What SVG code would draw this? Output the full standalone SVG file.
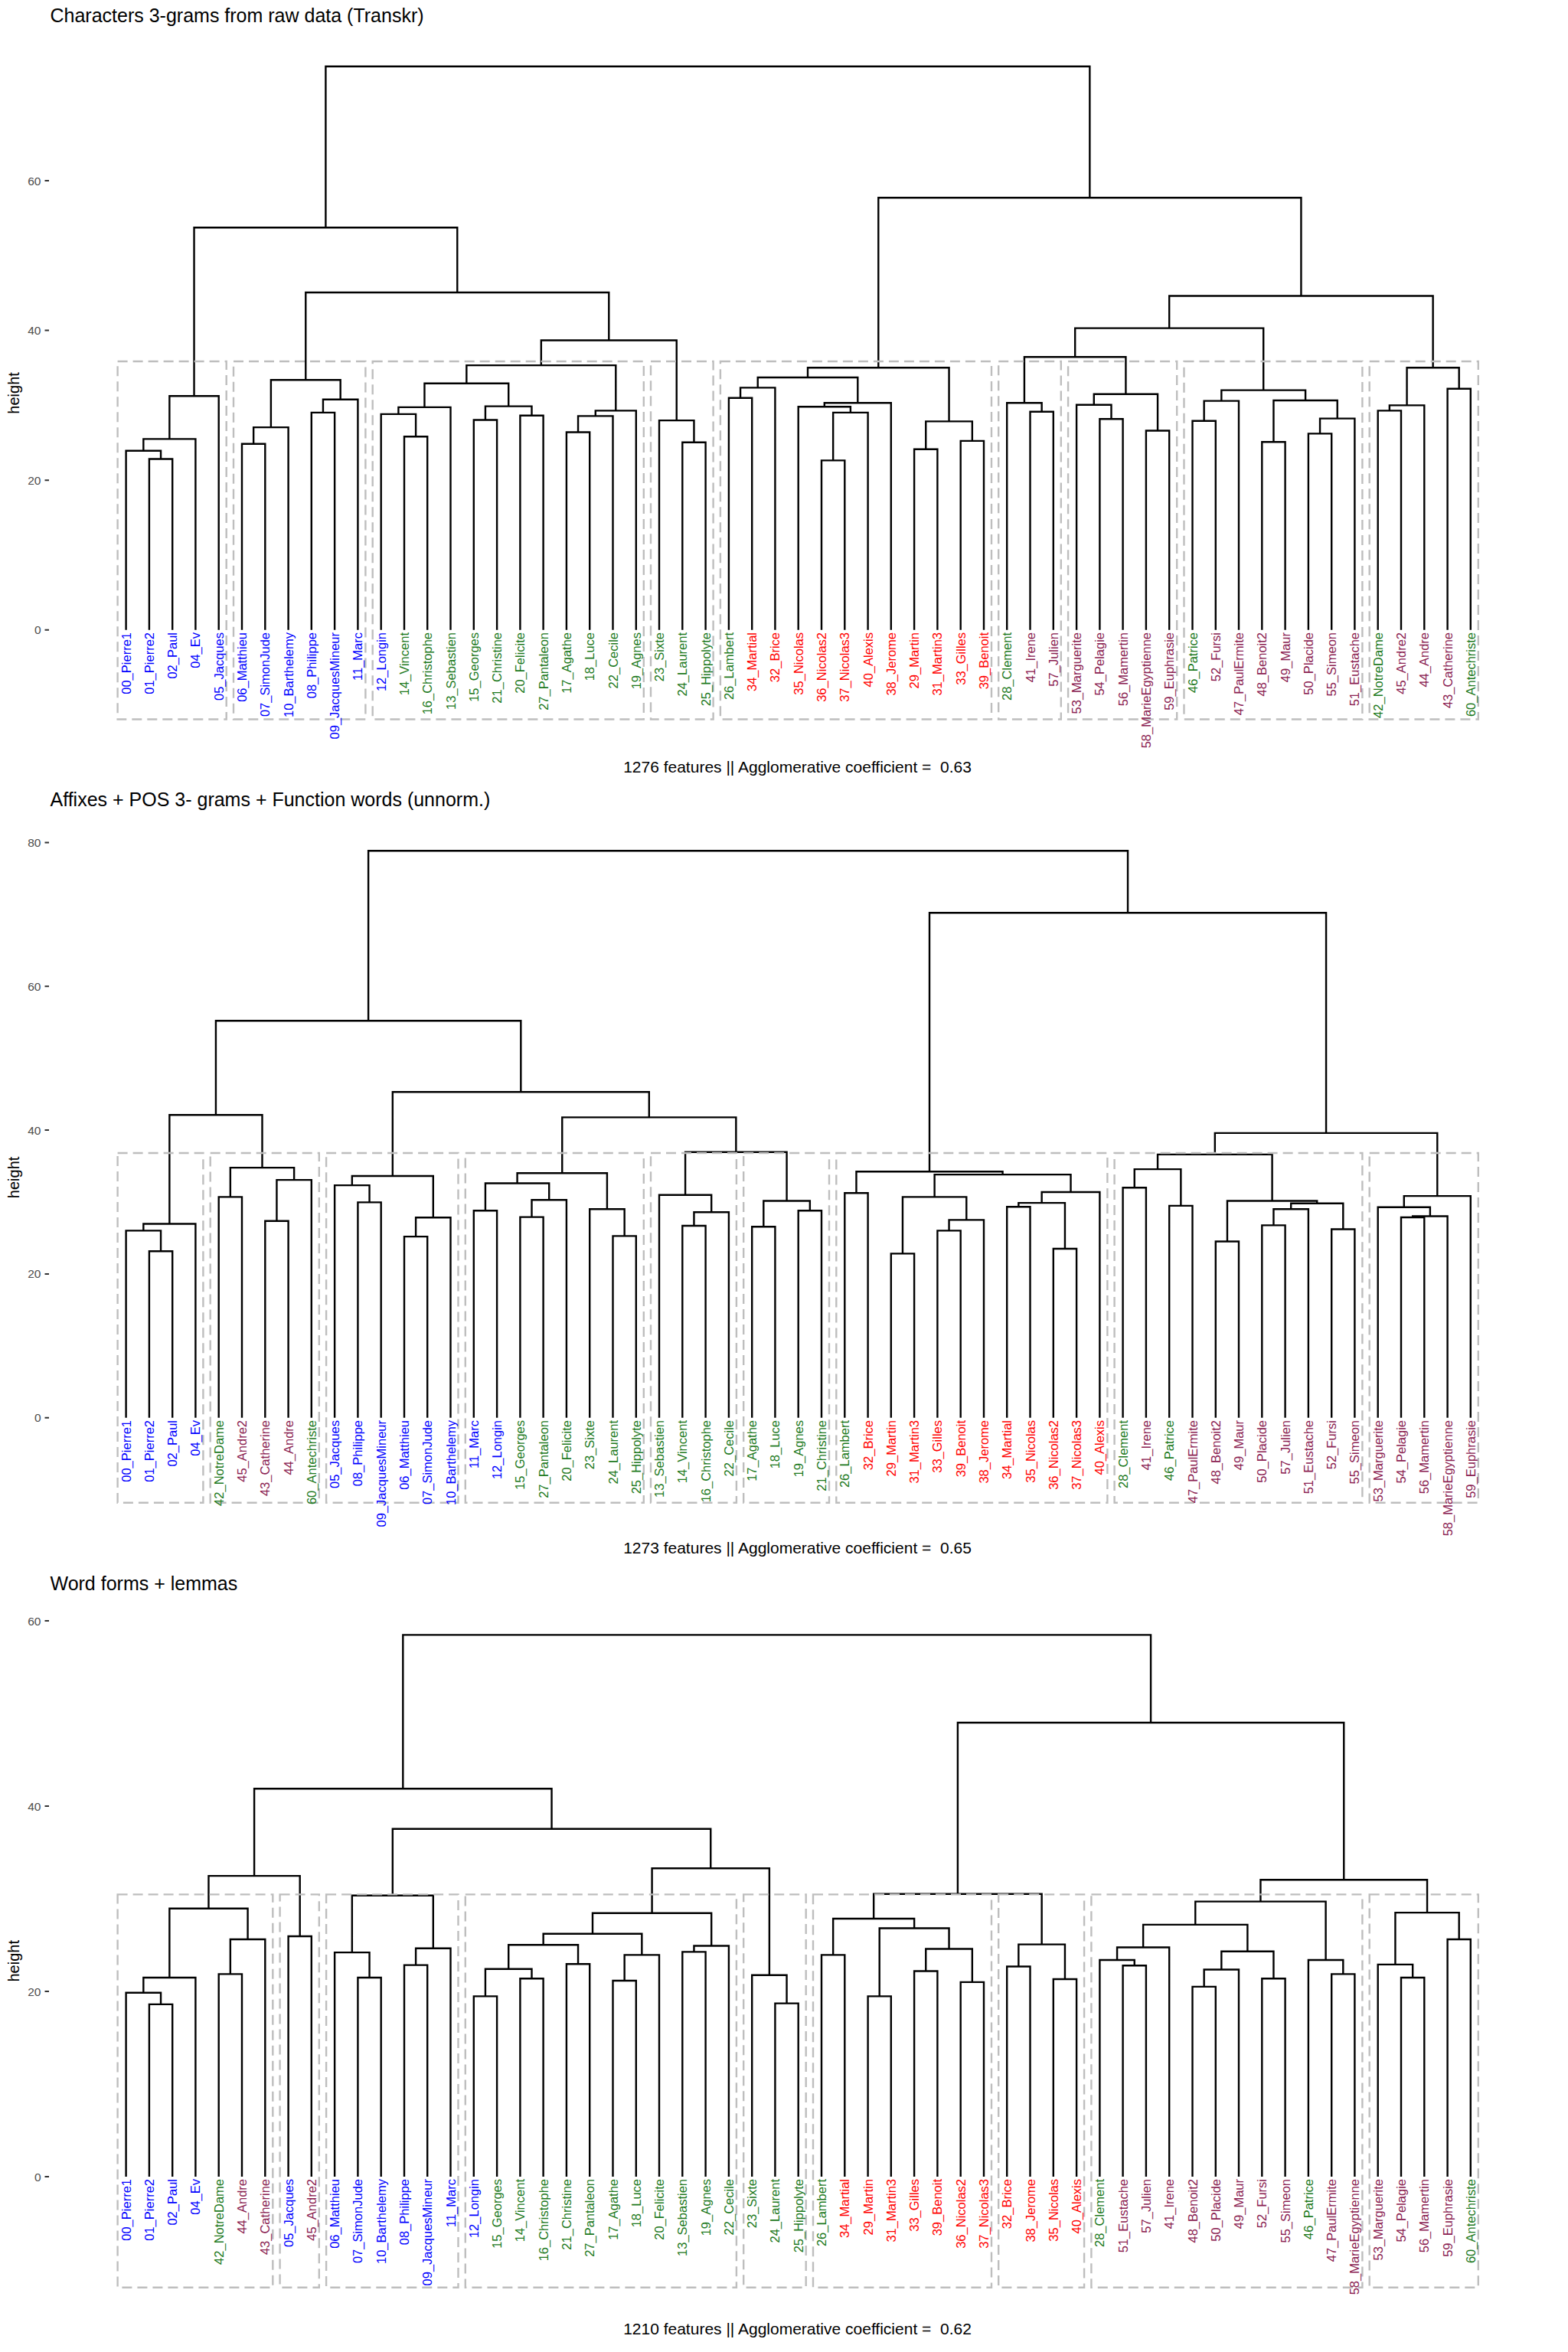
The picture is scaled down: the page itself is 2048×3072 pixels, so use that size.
<svg xmlns="http://www.w3.org/2000/svg" width="2048" height="3072" viewBox="0 0 2048 3072">
<style>
text{font-family:"Liberation Sans",Arial,Helvetica,sans-serif}
.ttl{font-size:25px;fill:#000}
.cap{font-size:21px;fill:#000;text-anchor:middle}
.ax{font-size:20px;fill:#000;text-anchor:middle}
.tk{font-size:15.5px;fill:#4D4D4D;text-anchor:end}
.lb{font-size:16.5px;text-anchor:end}
.b{fill:#0000FF}.g{fill:#1E7A1E}.r{fill:#FF0000}.m{fill:#8B2252}
.tree{fill:none;stroke:#000;stroke-width:2.4;stroke-linejoin:miter;stroke-linecap:butt}
.box{fill:none;stroke:#BEBEBE;stroke-width:2.4;stroke-dasharray:13 7}
.tick{stroke:#333;stroke-width:2}
</style>
<rect width="2048" height="3072" fill="#fff"/>

<!-- ============ PANEL 1 ============ -->
<g id="panel1">
<text class="ttl" x="65.5" y="29.3">Characters 3-grams from raw data (Transkr)</text>
<text class="ax" transform="translate(24.5 513.4) rotate(-90)">height</text>
<g id="p1-axis">
<path class="tick" d="M58.5 822.8H64M58.5 627.2H64M58.5 431.6H64M58.5 236H64"/>
<text class="tk" x="53.5" y="828.3">0</text>
<text class="tk" x="53.5" y="632.7">20</text>
<text class="tk" x="53.5" y="437.1">40</text>
<text class="tk" x="53.5" y="241.5">60</text>
</g>
<g id="p1-connectors">
<path class="tree" d="M194.9 822.8V599.5H225.2V822.8M164.6 822.8V588.7H210.05V599.5M187.33 588.7V573.4H255.4V822.8M221.36 573.4V517.3H285.7V822.8M316 822.8V579.8H346.3V822.8M331.15 579.8V558.1H376.6V822.8M406.8 822.8V538.9H437.1V822.8M421.95 538.9V521.7H467.4V822.8M353.88 558.1V496.2H444.68V521.7M528 822.8V570.2H558.2V822.8M497.7 822.8V540.9H543.1V570.2M520.4 540.9V531.9H588.5V822.8M618.8 822.8V548.5H649.1V822.8M679.4 822.8V542.8H709.6V822.8M633.95 548.5V530.6H694.5V542.8M554.45 531.9V500.7H664.23V530.6M739.9 822.8V564.5H770.2V822.8M755.05 564.5V543.4H800.5V822.8M777.78 543.4V536.4H830.8V822.8M609.34 500.7V477.1H804.29V536.4M891.3 822.8V577.8H921.6V822.8M861 822.8V549.1H906.45V577.8M706.82 477.1V444.5H883.73V549.1M399.28 496.2V382H795.28V444.5M253.53 517.3V297.2H597.28V382M951.9 822.8V519.8H982.2V822.8M967.05 519.8V506.4H1012.4V822.8M1073 822.8V601.4H1103.3V822.8M1088.15 601.4V538.9H1133.6V822.8M1042.7 822.8V531.3H1110.88V538.9M1076.79 531.3V526.2H1163.8V822.8M989.73 506.4V493H1120.3V526.2M1194.1 822.8V586.8H1224.4V822.8M1254.7 822.8V575.9H1285V822.8M1209.25 586.8V550.4H1269.85V575.9M1055.01 493V480.3H1239.55V550.4M1345.5 822.8V537.7H1375.8V822.8M1315.2 822.8V526.2H1360.65V537.7M1436.4 822.8V547.2H1466.6V822.8M1406.1 822.8V528.7H1451.5V547.2M1496.9 822.8V562.5H1527.2V822.8M1428.8 528.7V514.7H1512.05V562.5M1337.93 526.2V466.2H1470.43V514.7M1557.5 822.8V549.8H1587.8V822.8M1572.65 549.8V523.6H1618V822.8M1648.3 822.8V577.2H1678.6V822.8M1708.9 822.8V566.4H1739.2V822.8M1724.05 566.4V546.6H1769.4V822.8M1663.45 577.2V523H1746.73V546.6M1595.33 523.6V509.6H1705.09V523M1404.18 466.2V428.6H1650.21V509.6M1799.7 822.8V536.4H1830V822.8M1814.85 536.4V529.4H1860.3V822.8M1890.6 822.8V507.7H1920.8V822.8M1837.58 529.4V480.3H1905.7V507.7M1527.2 428.6V386.5H1871.64V480.3M1147.28 480.3V258.3H1699.42V386.5M425.41 297.2V86.7H1423.35V258.3"/>
</g>
<g id="p1-boxes">
<rect class="box" x="153.6" y="472" width="142.1" height="467.5"/>
<rect class="box" x="305" y="472" width="172.4" height="467.5"/>
<rect class="box" x="486.7" y="472" width="354.1" height="467.5"/>
<rect class="box" x="850" y="472" width="81.6" height="467.5"/>
<rect class="box" x="940.9" y="472" width="354.1" height="467.5"/>
<rect class="box" x="1304.2" y="472" width="81.6" height="467.5"/>
<rect class="box" x="1395.1" y="472" width="142.1" height="467.5"/>
<rect class="box" x="1546.5" y="472" width="232.9" height="467.5"/>
<rect class="box" x="1788.7" y="472" width="142.1" height="467.5"/>
</g>
<g id="p1-labels">
<g id="p1-00_Pierre1"><text class="lb b" transform="translate(170.6 826) rotate(-90)">00_Pierre1</text></g>
<g id="p1-01_Pierre2"><text class="lb b" transform="translate(200.9 826) rotate(-90)">01_Pierre2</text></g>
<g id="p1-02_Paul"><text class="lb b" transform="translate(231.2 826) rotate(-90)">02_Paul</text></g>
<g id="p1-04_Ev"><text class="lb b" transform="translate(261.4 826) rotate(-90)">04_Ev</text></g>
<g id="p1-05_Jacques"><text class="lb b" transform="translate(291.7 826) rotate(-90)">05_Jacques</text></g>
<g id="p1-06_Matthieu"><text class="lb b" transform="translate(322 826) rotate(-90)">06_Matthieu</text></g>
<g id="p1-07_SimonJude"><text class="lb b" transform="translate(352.3 826) rotate(-90)">07_SimonJude</text></g>
<g id="p1-10_Barthelemy"><text class="lb b" transform="translate(382.6 826) rotate(-90)">10_Barthelemy</text></g>
<g id="p1-08_Philippe"><text class="lb b" transform="translate(412.8 826) rotate(-90)">08_Philippe</text></g>
<g id="p1-09_JacquesMineur"><text class="lb b" transform="translate(443.1 826) rotate(-90)">09_JacquesMineur</text></g>
<g id="p1-11_Marc"><text class="lb b" transform="translate(473.4 826) rotate(-90)">11_Marc</text></g>
<g id="p1-12_Longin"><text class="lb b" transform="translate(503.7 826) rotate(-90)">12_Longin</text></g>
<g id="p1-14_Vincent"><text class="lb g" transform="translate(534 826) rotate(-90)">14_Vincent</text></g>
<g id="p1-16_Christophe"><text class="lb g" transform="translate(564.2 826) rotate(-90)">16_Christophe</text></g>
<g id="p1-13_Sebastien"><text class="lb g" transform="translate(594.5 826) rotate(-90)">13_Sebastien</text></g>
<g id="p1-15_Georges"><text class="lb g" transform="translate(624.8 826) rotate(-90)">15_Georges</text></g>
<g id="p1-21_Christine"><text class="lb g" transform="translate(655.1 826) rotate(-90)">21_Christine</text></g>
<g id="p1-20_Felicite"><text class="lb g" transform="translate(685.4 826) rotate(-90)">20_Felicite</text></g>
<g id="p1-27_Pantaleon"><text class="lb g" transform="translate(715.6 826) rotate(-90)">27_Pantaleon</text></g>
<g id="p1-17_Agathe"><text class="lb g" transform="translate(745.9 826) rotate(-90)">17_Agathe</text></g>
<g id="p1-18_Luce"><text class="lb g" transform="translate(776.2 826) rotate(-90)">18_Luce</text></g>
<g id="p1-22_Cecile"><text class="lb g" transform="translate(806.5 826) rotate(-90)">22_Cecile</text></g>
<g id="p1-19_Agnes"><text class="lb g" transform="translate(836.8 826) rotate(-90)">19_Agnes</text></g>
<g id="p1-23_Sixte"><text class="lb g" transform="translate(867 826) rotate(-90)">23_Sixte</text></g>
<g id="p1-24_Laurent"><text class="lb g" transform="translate(897.3 826) rotate(-90)">24_Laurent</text></g>
<g id="p1-25_Hippolyte"><text class="lb g" transform="translate(927.6 826) rotate(-90)">25_Hippolyte</text></g>
<g id="p1-26_Lambert"><text class="lb g" transform="translate(957.9 826) rotate(-90)">26_Lambert</text></g>
<g id="p1-34_Martial"><text class="lb r" transform="translate(988.2 826) rotate(-90)">34_Martial</text></g>
<g id="p1-32_Brice"><text class="lb r" transform="translate(1018.4 826) rotate(-90)">32_Brice</text></g>
<g id="p1-35_Nicolas"><text class="lb r" transform="translate(1048.7 826) rotate(-90)">35_Nicolas</text></g>
<g id="p1-36_Nicolas2"><text class="lb r" transform="translate(1079 826) rotate(-90)">36_Nicolas2</text></g>
<g id="p1-37_Nicolas3"><text class="lb r" transform="translate(1109.3 826) rotate(-90)">37_Nicolas3</text></g>
<g id="p1-40_Alexis"><text class="lb r" transform="translate(1139.6 826) rotate(-90)">40_Alexis</text></g>
<g id="p1-38_Jerome"><text class="lb r" transform="translate(1169.8 826) rotate(-90)">38_Jerome</text></g>
<g id="p1-29_Martin"><text class="lb r" transform="translate(1200.1 826) rotate(-90)">29_Martin</text></g>
<g id="p1-31_Martin3"><text class="lb r" transform="translate(1230.4 826) rotate(-90)">31_Martin3</text></g>
<g id="p1-33_Gilles"><text class="lb r" transform="translate(1260.7 826) rotate(-90)">33_Gilles</text></g>
<g id="p1-39_Benoit"><text class="lb r" transform="translate(1291 826) rotate(-90)">39_Benoit</text></g>
<g id="p1-28_Clement"><text class="lb g" transform="translate(1321.2 826) rotate(-90)">28_Clement</text></g>
<g id="p1-41_Irene"><text class="lb m" transform="translate(1351.5 826) rotate(-90)">41_Irene</text></g>
<g id="p1-57_Julien"><text class="lb m" transform="translate(1381.8 826) rotate(-90)">57_Julien</text></g>
<g id="p1-53_Marguerite"><text class="lb m" transform="translate(1412.1 826) rotate(-90)">53_Marguerite</text></g>
<g id="p1-54_Pelagie"><text class="lb m" transform="translate(1442.4 826) rotate(-90)">54_Pelagie</text></g>
<g id="p1-56_Mamertin"><text class="lb m" transform="translate(1472.6 826) rotate(-90)">56_Mamertin</text></g>
<g id="p1-58_MarieEgyptienne"><text class="lb m" transform="translate(1502.9 826) rotate(-90)">58_MarieEgyptienne</text></g>
<g id="p1-59_Euphrasie"><text class="lb m" transform="translate(1533.2 826) rotate(-90)">59_Euphrasie</text></g>
<g id="p1-46_Patrice"><text class="lb g" transform="translate(1563.5 826) rotate(-90)">46_Patrice</text></g>
<g id="p1-52_Fursi"><text class="lb m" transform="translate(1593.8 826) rotate(-90)">52_Fursi</text></g>
<g id="p1-47_PaulErmite"><text class="lb m" transform="translate(1624 826) rotate(-90)">47_PaulErmite</text></g>
<g id="p1-48_Benoit2"><text class="lb m" transform="translate(1654.3 826) rotate(-90)">48_Benoit2</text></g>
<g id="p1-49_Maur"><text class="lb m" transform="translate(1684.6 826) rotate(-90)">49_Maur</text></g>
<g id="p1-50_Placide"><text class="lb m" transform="translate(1714.9 826) rotate(-90)">50_Placide</text></g>
<g id="p1-55_Simeon"><text class="lb m" transform="translate(1745.2 826) rotate(-90)">55_Simeon</text></g>
<g id="p1-51_Eustache"><text class="lb m" transform="translate(1775.4 826) rotate(-90)">51_Eustache</text></g>
<g id="p1-42_NotreDame"><text class="lb g" transform="translate(1805.7 826) rotate(-90)">42_NotreDame</text></g>
<g id="p1-45_Andre2"><text class="lb m" transform="translate(1836 826) rotate(-90)">45_Andre2</text></g>
<g id="p1-44_Andre"><text class="lb m" transform="translate(1866.3 826) rotate(-90)">44_Andre</text></g>
<g id="p1-43_Catherine"><text class="lb m" transform="translate(1896.6 826) rotate(-90)">43_Catherine</text></g>
<g id="p1-60_Antechriste"><text class="lb g" transform="translate(1926.8 826) rotate(-90)">60_Antechriste</text></g>
</g>
<text class="cap" x="1041.5" y="1009" xml:space="preserve">1276 features || Agglomerative coefficient =  0.63</text>
</g>

<!-- ============ PANEL 2 ============ -->
<g id="panel2">
<text class="ttl" x="65.5" y="1053">Affixes + POS 3- grams + Function words (unnorm.)</text>
<text class="ax" transform="translate(24.5 1537.9) rotate(-90)">height</text>
<g id="p2-axis">
<path class="tick" d="M58.5 1851.7H64M58.5 1663.9H64M58.5 1476.1H64M58.5 1288.3H64M58.5 1100.5H64"/>
<text class="tk" x="53.5" y="1857.2">0</text>
<text class="tk" x="53.5" y="1669.4">20</text>
<text class="tk" x="53.5" y="1481.6">40</text>
<text class="tk" x="53.5" y="1293.8">60</text>
<text class="tk" x="53.5" y="1106">80</text>
</g>
<g id="p2-connectors">
<path class="tree" d="M194.9 1851.7V1634.2H225.2V1851.7M164.6 1851.7V1607.4H210.05V1634.2M187.33 1607.4V1598.5H255.4V1851.7M285.7 1851.7V1563.4H316V1851.7M346.3 1851.7V1594.7H376.6V1851.7M361.45 1594.7V1541.1H406.8V1851.7M300.85 1563.4V1525.1H384.13V1541.1M221.36 1598.5V1456.3H342.49V1525.1M467.4 1851.7V1570.4H497.7V1851.7M437.1 1851.7V1548.1H482.55V1570.4M528 1851.7V1615.1H558.2V1851.7M543.1 1615.1V1590.2H588.5V1851.7M459.83 1548.1V1536H565.8V1590.2M618.8 1851.7V1581.3H649.1V1851.7M679.4 1851.7V1589.6H709.6V1851.7M694.5 1589.6V1567.2H739.9V1851.7M633.95 1581.3V1545.5H717.2V1567.2M800.5 1851.7V1614.4H830.8V1851.7M770.2 1851.7V1579.3H815.65V1614.4M675.58 1545.5V1532.2H792.93V1579.3M891.3 1851.7V1601H921.6V1851.7M906.45 1601V1583.2H951.9V1851.7M861 1851.7V1560.8H929.18V1583.2M982.2 1851.7V1602.3H1012.4V1851.7M1042.7 1851.7V1581.3H1073V1851.7M997.3 1602.3V1568.5H1057.85V1581.3M895.09 1560.8V1504.7H1027.58V1568.5M734.26 1532.2V1459.4H961.34V1504.7M512.82 1536V1426.3H847.8V1459.4M281.93 1456.3V1333.2H680.31V1426.3M1103.3 1851.7V1558.3H1133.6V1851.7M1163.8 1851.7V1637.4H1194.1V1851.7M1224.4 1851.7V1607.4H1254.7V1851.7M1239.55 1607.4V1593.4H1285V1851.7M1178.95 1637.4V1563.4H1262.28V1593.4M1315.2 1851.7V1576.2H1345.5V1851.7M1375.8 1851.7V1631H1406.1V1851.7M1330.35 1576.2V1571.1H1390.95V1631M1360.65 1571.1V1557H1436.4V1851.7M1220.62 1563.4V1534.1H1398.53V1557M1118.45 1558.3V1530.2H1309.58V1534.1M1466.6 1851.7V1551.3H1496.9V1851.7M1527.2 1851.7V1574.9H1557.5V1851.7M1481.75 1551.3V1527.1H1542.35V1574.9M1587.8 1851.7V1621.5H1618V1851.7M1648.3 1851.7V1600.4H1678.6V1851.7M1663.45 1600.4V1579.3H1708.9V1851.7M1739.2 1851.7V1605.5H1769.4V1851.7M1686.18 1579.3V1571.7H1754.3V1605.5M1602.95 1621.5V1568.5H1720.24V1571.7M1512.05 1527.1V1507.9H1661.6V1568.5M1830 1851.7V1590H1860.3V1851.7M1845.15 1590V1588.5H1890.6V1851.7M1799.7 1851.7V1576.8H1867.88V1588.5M1833.79 1576.8V1562.1H1920.8V1851.7M1586.83 1507.9V1479.9H1877.3V1562.1M1214.02 1530.2V1192.2H1732.07V1479.9M481.12 1333.2V1111.2H1473.05V1192.2"/>
</g>
<g id="p2-boxes">
<rect class="box" x="153.6" y="1506" width="111.8" height="456.7"/>
<rect class="box" x="274.7" y="1506" width="142.1" height="456.7"/>
<rect class="box" x="426.1" y="1506" width="172.4" height="456.7"/>
<rect class="box" x="607.8" y="1506" width="233" height="456.7"/>
<rect class="box" x="850" y="1506" width="111.9" height="456.7"/>
<rect class="box" x="971.2" y="1506" width="111.8" height="456.7"/>
<rect class="box" x="1092.3" y="1506" width="354.1" height="456.7"/>
<rect class="box" x="1455.6" y="1506" width="323.8" height="456.7"/>
<rect class="box" x="1788.7" y="1506" width="142.1" height="456.7"/>
</g>
<g id="p2-labels">
<g id="p2-00_Pierre1"><text class="lb b" transform="translate(170.6 1855) rotate(-90)">00_Pierre1</text></g>
<g id="p2-01_Pierre2"><text class="lb b" transform="translate(200.9 1855) rotate(-90)">01_Pierre2</text></g>
<g id="p2-02_Paul"><text class="lb b" transform="translate(231.2 1855) rotate(-90)">02_Paul</text></g>
<g id="p2-04_Ev"><text class="lb b" transform="translate(261.4 1855) rotate(-90)">04_Ev</text></g>
<g id="p2-42_NotreDame"><text class="lb g" transform="translate(291.7 1855) rotate(-90)">42_NotreDame</text></g>
<g id="p2-45_Andre2"><text class="lb m" transform="translate(322 1855) rotate(-90)">45_Andre2</text></g>
<g id="p2-43_Catherine"><text class="lb m" transform="translate(352.3 1855) rotate(-90)">43_Catherine</text></g>
<g id="p2-44_Andre"><text class="lb m" transform="translate(382.6 1855) rotate(-90)">44_Andre</text></g>
<g id="p2-60_Antechriste"><text class="lb g" transform="translate(412.8 1855) rotate(-90)">60_Antechriste</text></g>
<g id="p2-05_Jacques"><text class="lb b" transform="translate(443.1 1855) rotate(-90)">05_Jacques</text></g>
<g id="p2-08_Philippe"><text class="lb b" transform="translate(473.4 1855) rotate(-90)">08_Philippe</text></g>
<g id="p2-09_JacquesMineur"><text class="lb b" transform="translate(503.7 1855) rotate(-90)">09_JacquesMineur</text></g>
<g id="p2-06_Matthieu"><text class="lb b" transform="translate(534 1855) rotate(-90)">06_Matthieu</text></g>
<g id="p2-07_SimonJude"><text class="lb b" transform="translate(564.2 1855) rotate(-90)">07_SimonJude</text></g>
<g id="p2-10_Barthelemy"><text class="lb b" transform="translate(594.5 1855) rotate(-90)">10_Barthelemy</text></g>
<g id="p2-11_Marc"><text class="lb b" transform="translate(624.8 1855) rotate(-90)">11_Marc</text></g>
<g id="p2-12_Longin"><text class="lb b" transform="translate(655.1 1855) rotate(-90)">12_Longin</text></g>
<g id="p2-15_Georges"><text class="lb g" transform="translate(685.4 1855) rotate(-90)">15_Georges</text></g>
<g id="p2-27_Pantaleon"><text class="lb g" transform="translate(715.6 1855) rotate(-90)">27_Pantaleon</text></g>
<g id="p2-20_Felicite"><text class="lb g" transform="translate(745.9 1855) rotate(-90)">20_Felicite</text></g>
<g id="p2-23_Sixte"><text class="lb g" transform="translate(776.2 1855) rotate(-90)">23_Sixte</text></g>
<g id="p2-24_Laurent"><text class="lb g" transform="translate(806.5 1855) rotate(-90)">24_Laurent</text></g>
<g id="p2-25_Hippolyte"><text class="lb g" transform="translate(836.8 1855) rotate(-90)">25_Hippolyte</text></g>
<g id="p2-13_Sebastien"><text class="lb g" transform="translate(867 1855) rotate(-90)">13_Sebastien</text></g>
<g id="p2-14_Vincent"><text class="lb g" transform="translate(897.3 1855) rotate(-90)">14_Vincent</text></g>
<g id="p2-16_Christophe"><text class="lb g" transform="translate(927.6 1855) rotate(-90)">16_Christophe</text></g>
<g id="p2-22_Cecile"><text class="lb g" transform="translate(957.9 1855) rotate(-90)">22_Cecile</text></g>
<g id="p2-17_Agathe"><text class="lb g" transform="translate(988.2 1855) rotate(-90)">17_Agathe</text></g>
<g id="p2-18_Luce"><text class="lb g" transform="translate(1018.4 1855) rotate(-90)">18_Luce</text></g>
<g id="p2-19_Agnes"><text class="lb g" transform="translate(1048.7 1855) rotate(-90)">19_Agnes</text></g>
<g id="p2-21_Christine"><text class="lb g" transform="translate(1079 1855) rotate(-90)">21_Christine</text></g>
<g id="p2-26_Lambert"><text class="lb g" transform="translate(1109.3 1855) rotate(-90)">26_Lambert</text></g>
<g id="p2-32_Brice"><text class="lb r" transform="translate(1139.6 1855) rotate(-90)">32_Brice</text></g>
<g id="p2-29_Martin"><text class="lb r" transform="translate(1169.8 1855) rotate(-90)">29_Martin</text></g>
<g id="p2-31_Martin3"><text class="lb r" transform="translate(1200.1 1855) rotate(-90)">31_Martin3</text></g>
<g id="p2-33_Gilles"><text class="lb r" transform="translate(1230.4 1855) rotate(-90)">33_Gilles</text></g>
<g id="p2-39_Benoit"><text class="lb r" transform="translate(1260.7 1855) rotate(-90)">39_Benoit</text></g>
<g id="p2-38_Jerome"><text class="lb r" transform="translate(1291 1855) rotate(-90)">38_Jerome</text></g>
<g id="p2-34_Martial"><text class="lb r" transform="translate(1321.2 1855) rotate(-90)">34_Martial</text></g>
<g id="p2-35_Nicolas"><text class="lb r" transform="translate(1351.5 1855) rotate(-90)">35_Nicolas</text></g>
<g id="p2-36_Nicolas2"><text class="lb r" transform="translate(1381.8 1855) rotate(-90)">36_Nicolas2</text></g>
<g id="p2-37_Nicolas3"><text class="lb r" transform="translate(1412.1 1855) rotate(-90)">37_Nicolas3</text></g>
<g id="p2-40_Alexis"><text class="lb r" transform="translate(1442.4 1855) rotate(-90)">40_Alexis</text></g>
<g id="p2-28_Clement"><text class="lb g" transform="translate(1472.6 1855) rotate(-90)">28_Clement</text></g>
<g id="p2-41_Irene"><text class="lb m" transform="translate(1502.9 1855) rotate(-90)">41_Irene</text></g>
<g id="p2-46_Patrice"><text class="lb g" transform="translate(1533.2 1855) rotate(-90)">46_Patrice</text></g>
<g id="p2-47_PaulErmite"><text class="lb m" transform="translate(1563.5 1855) rotate(-90)">47_PaulErmite</text></g>
<g id="p2-48_Benoit2"><text class="lb m" transform="translate(1593.8 1855) rotate(-90)">48_Benoit2</text></g>
<g id="p2-49_Maur"><text class="lb m" transform="translate(1624 1855) rotate(-90)">49_Maur</text></g>
<g id="p2-50_Placide"><text class="lb m" transform="translate(1654.3 1855) rotate(-90)">50_Placide</text></g>
<g id="p2-57_Julien"><text class="lb m" transform="translate(1684.6 1855) rotate(-90)">57_Julien</text></g>
<g id="p2-51_Eustache"><text class="lb m" transform="translate(1714.9 1855) rotate(-90)">51_Eustache</text></g>
<g id="p2-52_Fursi"><text class="lb m" transform="translate(1745.2 1855) rotate(-90)">52_Fursi</text></g>
<g id="p2-55_Simeon"><text class="lb m" transform="translate(1775.4 1855) rotate(-90)">55_Simeon</text></g>
<g id="p2-53_Marguerite"><text class="lb m" transform="translate(1805.7 1855) rotate(-90)">53_Marguerite</text></g>
<g id="p2-54_Pelagie"><text class="lb m" transform="translate(1836 1855) rotate(-90)">54_Pelagie</text></g>
<g id="p2-56_Mamertin"><text class="lb m" transform="translate(1866.3 1855) rotate(-90)">56_Mamertin</text></g>
<g id="p2-58_MarieEgyptienne"><text class="lb m" transform="translate(1896.6 1855) rotate(-90)">58_MarieEgyptienne</text></g>
<g id="p2-59_Euphrasie"><text class="lb m" transform="translate(1926.8 1855) rotate(-90)">59_Euphrasie</text></g>
</g>
<text class="cap" x="1041.5" y="2029" xml:space="preserve">1273 features || Agglomerative coefficient =  0.65</text>
</g>

<!-- ============ PANEL 3 ============ -->
<g id="panel3">
<text class="ttl" x="65.5" y="2077">Word forms + lemmas</text>
<text class="ax" transform="translate(24.5 2561.3) rotate(-90)">height</text>
<g id="p3-axis">
<path class="tick" d="M58.5 2843H64M58.5 2601H64M58.5 2359H64M58.5 2117H64"/>
<text class="tk" x="53.5" y="2848.5">0</text>
<text class="tk" x="53.5" y="2606.5">20</text>
<text class="tk" x="53.5" y="2364.5">40</text>
<text class="tk" x="53.5" y="2122.5">60</text>
</g>
<g id="p3-connectors">
<path class="tree" d="M194.9 2843V2617.9H225.2V2843M164.6 2843V2602.8H210.05V2617.9M187.33 2602.8V2583H255.4V2843M285.7 2843V2578.4H316V2843M300.85 2578.4V2533H346.3V2843M221.36 2583V2492.8H323.58V2533M376.6 2843V2529H406.8V2843M272.47 2492.8V2450.1H391.7V2529M467.4 2843V2583H497.7V2843M437.1 2843V2550.1H482.55V2583M528 2843V2566.6H558.2V2843M543.1 2566.6V2544.8H588.5V2843M459.83 2550.1V2475.7H565.8V2544.8M618.8 2843V2607.4H649.1V2843M679.4 2843V2584.3H709.6V2843M633.95 2607.4V2571.8H694.5V2584.3M739.9 2843V2565.2H770.2V2843M664.23 2571.8V2540.2H755.05V2565.2M800.5 2843V2587H830.8V2843M815.65 2587V2553.4H861V2843M709.64 2540.2V2525.8H838.33V2553.4M891.3 2843V2549.4H921.6V2843M906.45 2549.4V2541.5H951.9V2843M773.99 2525.8V2498.8H929.18V2541.5M1012.4 2843V2616.6H1042.7V2843M982.2 2843V2579.7H1027.55V2616.6M851.59 2498.8V2440.2H1004.88V2579.7M512.82 2475.7V2388.8H928.24V2440.2M332.09 2450.1V2336.2H720.53V2388.8M1073 2843V2553.4H1103.3V2843M1133.6 2843V2607.4H1163.8V2843M1194.1 2843V2574.5H1224.4V2843M1254.7 2843V2588.9H1285V2843M1209.25 2574.5V2545.5H1269.85V2588.9M1148.7 2607.4V2518.5H1239.55V2545.5M1088.15 2553.4V2506H1194.13V2518.5M1315.2 2843V2568.5H1345.5V2843M1375.8 2843V2585H1406.1V2843M1330.35 2568.5V2539.6H1390.95V2585M1141.14 2506V2473.8H1360.65V2539.6M1466.6 2843V2567.2H1496.9V2843M1436.4 2843V2560H1481.75V2567.2M1459.08 2560V2543.5H1527.2V2843M1557.5 2843V2594.9H1587.8V2843M1572.65 2594.9V2572.5H1618V2843M1648.3 2843V2584.3H1678.6V2843M1595.33 2572.5V2548.8H1663.45V2584.3M1493.14 2543.5V2513.9H1629.39V2548.8M1739.2 2843V2578.4H1769.4V2843M1708.9 2843V2560H1754.3V2578.4M1561.27 2513.9V2483.6H1731.6V2560M1830 2843V2583H1860.3V2843M1799.7 2843V2565.9H1845.15V2583M1890.6 2843V2533H1920.8V2843M1822.43 2565.9V2498.1H1905.7V2533M1646.44 2483.6V2455.3H1864.07V2498.1M1250.9 2473.8V2250H1755.26V2455.3M526.31 2336.2V2135.4H1503.08V2250"/>
</g>
<g id="p3-boxes">
<rect class="box" x="153.6" y="2474.4" width="202.7" height="513.4"/>
<rect class="box" x="365.6" y="2474.4" width="51.2" height="513.4"/>
<rect class="box" x="426.1" y="2474.4" width="172.4" height="513.4"/>
<rect class="box" x="607.8" y="2474.4" width="354.1" height="513.4"/>
<rect class="box" x="971.2" y="2474.4" width="81.5" height="513.4"/>
<rect class="box" x="1062" y="2474.4" width="233" height="513.4"/>
<rect class="box" x="1304.2" y="2474.4" width="111.9" height="513.4"/>
<rect class="box" x="1425.4" y="2474.4" width="354" height="513.4"/>
<rect class="box" x="1788.7" y="2474.4" width="142.1" height="513.4"/>
</g>
<g id="p3-labels">
<g id="p3-00_Pierre1"><text class="lb b" transform="translate(170.6 2846) rotate(-90)">00_Pierre1</text></g>
<g id="p3-01_Pierre2"><text class="lb b" transform="translate(200.9 2846) rotate(-90)">01_Pierre2</text></g>
<g id="p3-02_Paul"><text class="lb b" transform="translate(231.2 2846) rotate(-90)">02_Paul</text></g>
<g id="p3-04_Ev"><text class="lb b" transform="translate(261.4 2846) rotate(-90)">04_Ev</text></g>
<g id="p3-42_NotreDame"><text class="lb g" transform="translate(291.7 2846) rotate(-90)">42_NotreDame</text></g>
<g id="p3-44_Andre"><text class="lb m" transform="translate(322 2846) rotate(-90)">44_Andre</text></g>
<g id="p3-43_Catherine"><text class="lb m" transform="translate(352.3 2846) rotate(-90)">43_Catherine</text></g>
<g id="p3-05_Jacques"><text class="lb b" transform="translate(382.6 2846) rotate(-90)">05_Jacques</text></g>
<g id="p3-45_Andre2"><text class="lb m" transform="translate(412.8 2846) rotate(-90)">45_Andre2</text></g>
<g id="p3-06_Matthieu"><text class="lb b" transform="translate(443.1 2846) rotate(-90)">06_Matthieu</text></g>
<g id="p3-07_SimonJude"><text class="lb b" transform="translate(473.4 2846) rotate(-90)">07_SimonJude</text></g>
<g id="p3-10_Barthelemy"><text class="lb b" transform="translate(503.7 2846) rotate(-90)">10_Barthelemy</text></g>
<g id="p3-08_Philippe"><text class="lb b" transform="translate(534 2846) rotate(-90)">08_Philippe</text></g>
<g id="p3-09_JacquesMineur"><text class="lb b" transform="translate(564.2 2846) rotate(-90)">09_JacquesMineur</text></g>
<g id="p3-11_Marc"><text class="lb b" transform="translate(594.5 2846) rotate(-90)">11_Marc</text></g>
<g id="p3-12_Longin"><text class="lb b" transform="translate(624.8 2846) rotate(-90)">12_Longin</text></g>
<g id="p3-15_Georges"><text class="lb g" transform="translate(655.1 2846) rotate(-90)">15_Georges</text></g>
<g id="p3-14_Vincent"><text class="lb g" transform="translate(685.4 2846) rotate(-90)">14_Vincent</text></g>
<g id="p3-16_Christophe"><text class="lb g" transform="translate(715.6 2846) rotate(-90)">16_Christophe</text></g>
<g id="p3-21_Christine"><text class="lb g" transform="translate(745.9 2846) rotate(-90)">21_Christine</text></g>
<g id="p3-27_Pantaleon"><text class="lb g" transform="translate(776.2 2846) rotate(-90)">27_Pantaleon</text></g>
<g id="p3-17_Agathe"><text class="lb g" transform="translate(806.5 2846) rotate(-90)">17_Agathe</text></g>
<g id="p3-18_Luce"><text class="lb g" transform="translate(836.8 2846) rotate(-90)">18_Luce</text></g>
<g id="p3-20_Felicite"><text class="lb g" transform="translate(867 2846) rotate(-90)">20_Felicite</text></g>
<g id="p3-13_Sebastien"><text class="lb g" transform="translate(897.3 2846) rotate(-90)">13_Sebastien</text></g>
<g id="p3-19_Agnes"><text class="lb g" transform="translate(927.6 2846) rotate(-90)">19_Agnes</text></g>
<g id="p3-22_Cecile"><text class="lb g" transform="translate(957.9 2846) rotate(-90)">22_Cecile</text></g>
<g id="p3-23_Sixte"><text class="lb g" transform="translate(988.2 2846) rotate(-90)">23_Sixte</text></g>
<g id="p3-24_Laurent"><text class="lb g" transform="translate(1018.4 2846) rotate(-90)">24_Laurent</text></g>
<g id="p3-25_Hippolyte"><text class="lb g" transform="translate(1048.7 2846) rotate(-90)">25_Hippolyte</text></g>
<g id="p3-26_Lambert"><text class="lb g" transform="translate(1079 2846) rotate(-90)">26_Lambert</text></g>
<g id="p3-34_Martial"><text class="lb r" transform="translate(1109.3 2846) rotate(-90)">34_Martial</text></g>
<g id="p3-29_Martin"><text class="lb r" transform="translate(1139.6 2846) rotate(-90)">29_Martin</text></g>
<g id="p3-31_Martin3"><text class="lb r" transform="translate(1169.8 2846) rotate(-90)">31_Martin3</text></g>
<g id="p3-33_Gilles"><text class="lb r" transform="translate(1200.1 2846) rotate(-90)">33_Gilles</text></g>
<g id="p3-39_Benoit"><text class="lb r" transform="translate(1230.4 2846) rotate(-90)">39_Benoit</text></g>
<g id="p3-36_Nicolas2"><text class="lb r" transform="translate(1260.7 2846) rotate(-90)">36_Nicolas2</text></g>
<g id="p3-37_Nicolas3"><text class="lb r" transform="translate(1291 2846) rotate(-90)">37_Nicolas3</text></g>
<g id="p3-32_Brice"><text class="lb r" transform="translate(1321.2 2846) rotate(-90)">32_Brice</text></g>
<g id="p3-38_Jerome"><text class="lb r" transform="translate(1351.5 2846) rotate(-90)">38_Jerome</text></g>
<g id="p3-35_Nicolas"><text class="lb r" transform="translate(1381.8 2846) rotate(-90)">35_Nicolas</text></g>
<g id="p3-40_Alexis"><text class="lb r" transform="translate(1412.1 2846) rotate(-90)">40_Alexis</text></g>
<g id="p3-28_Clement"><text class="lb g" transform="translate(1442.4 2846) rotate(-90)">28_Clement</text></g>
<g id="p3-51_Eustache"><text class="lb m" transform="translate(1472.6 2846) rotate(-90)">51_Eustache</text></g>
<g id="p3-57_Julien"><text class="lb m" transform="translate(1502.9 2846) rotate(-90)">57_Julien</text></g>
<g id="p3-41_Irene"><text class="lb m" transform="translate(1533.2 2846) rotate(-90)">41_Irene</text></g>
<g id="p3-48_Benoit2"><text class="lb m" transform="translate(1563.5 2846) rotate(-90)">48_Benoit2</text></g>
<g id="p3-50_Placide"><text class="lb m" transform="translate(1593.8 2846) rotate(-90)">50_Placide</text></g>
<g id="p3-49_Maur"><text class="lb m" transform="translate(1624 2846) rotate(-90)">49_Maur</text></g>
<g id="p3-52_Fursi"><text class="lb m" transform="translate(1654.3 2846) rotate(-90)">52_Fursi</text></g>
<g id="p3-55_Simeon"><text class="lb m" transform="translate(1684.6 2846) rotate(-90)">55_Simeon</text></g>
<g id="p3-46_Patrice"><text class="lb g" transform="translate(1714.9 2846) rotate(-90)">46_Patrice</text></g>
<g id="p3-47_PaulErmite"><text class="lb m" transform="translate(1745.2 2846) rotate(-90)">47_PaulErmite</text></g>
<g id="p3-58_MarieEgyptienne"><text class="lb m" transform="translate(1775.4 2846) rotate(-90)">58_MarieEgyptienne</text></g>
<g id="p3-53_Marguerite"><text class="lb m" transform="translate(1805.7 2846) rotate(-90)">53_Marguerite</text></g>
<g id="p3-54_Pelagie"><text class="lb m" transform="translate(1836 2846) rotate(-90)">54_Pelagie</text></g>
<g id="p3-56_Mamertin"><text class="lb m" transform="translate(1866.3 2846) rotate(-90)">56_Mamertin</text></g>
<g id="p3-59_Euphrasie"><text class="lb m" transform="translate(1896.6 2846) rotate(-90)">59_Euphrasie</text></g>
<g id="p3-60_Antechriste"><text class="lb g" transform="translate(1926.8 2846) rotate(-90)">60_Antechriste</text></g>
</g>
<text class="cap" x="1041.5" y="3049" xml:space="preserve">1210 features || Agglomerative coefficient =  0.62</text>
</g>
</svg>
